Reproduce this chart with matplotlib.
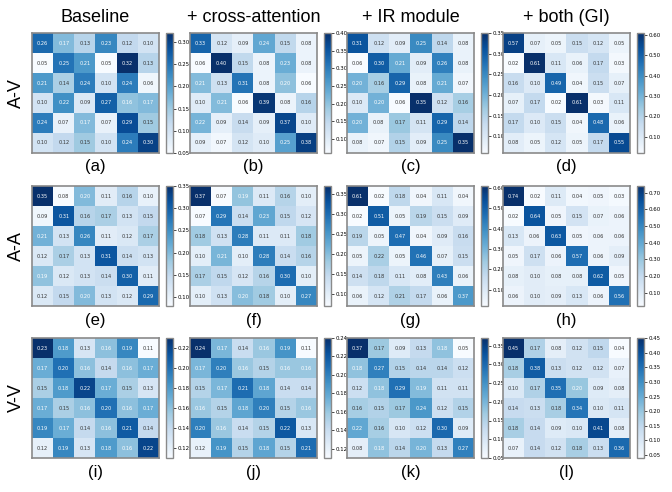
import matplotlib
matplotlib.use("Agg")
import matplotlib.pyplot as plt
import numpy as np
from matplotlib.ticker import FormatStrFormatter

# column / row names
col_titles = ["Baseline", "+ cross-attention", "+ IR module", "+ both (GI)"]
row_titles = ["A-V", "A-A", "V-V"]
panel_labels = ["(a)", "(b)", "(c)", "(d)", "(e)", "(f)", "(g)", "(h)",
                "(i)", "(j)", "(k)", "(l)"]

# A-V attention maps
av_baseline = [[0.26, 0.17, 0.13, 0.23, 0.12, 0.10],
               [0.05, 0.25, 0.21, 0.05, 0.32, 0.13],
               [0.21, 0.14, 0.24, 0.10, 0.24, 0.06],
               [0.10, 0.22, 0.09, 0.27, 0.16, 0.17],
               [0.24, 0.07, 0.17, 0.07, 0.29, 0.15],
               [0.10, 0.12, 0.15, 0.10, 0.24, 0.30]]
av_cross = [[0.33, 0.12, 0.09, 0.24, 0.15, 0.08],
            [0.06, 0.40, 0.15, 0.08, 0.23, 0.08],
            [0.21, 0.13, 0.31, 0.08, 0.20, 0.06],
            [0.10, 0.21, 0.06, 0.39, 0.08, 0.16],
            [0.22, 0.09, 0.14, 0.09, 0.37, 0.10],
            [0.09, 0.07, 0.12, 0.10, 0.25, 0.38]]
av_ir = [[0.31, 0.12, 0.09, 0.25, 0.14, 0.08],
         [0.06, 0.30, 0.21, 0.09, 0.26, 0.08],
         [0.20, 0.16, 0.29, 0.08, 0.21, 0.07],
         [0.10, 0.20, 0.06, 0.35, 0.12, 0.16],
         [0.20, 0.08, 0.17, 0.11, 0.29, 0.14],
         [0.08, 0.07, 0.15, 0.09, 0.25, 0.35]]
av_both = [[0.57, 0.07, 0.05, 0.15, 0.12, 0.05],
           [0.02, 0.61, 0.11, 0.06, 0.17, 0.03],
           [0.16, 0.10, 0.49, 0.04, 0.15, 0.07],
           [0.07, 0.17, 0.02, 0.61, 0.03, 0.11],
           [0.17, 0.10, 0.15, 0.04, 0.48, 0.06],
           [0.08, 0.05, 0.12, 0.05, 0.17, 0.55]]

# A-A attention maps
aa_baseline = [[0.35, 0.08, 0.20, 0.11, 0.16, 0.10],
               [0.09, 0.31, 0.16, 0.17, 0.13, 0.15],
               [0.21, 0.13, 0.26, 0.11, 0.12, 0.17],
               [0.12, 0.17, 0.13, 0.31, 0.14, 0.13],
               [0.19, 0.12, 0.13, 0.14, 0.30, 0.11],
               [0.12, 0.15, 0.20, 0.13, 0.12, 0.29]]
aa_cross = [[0.37, 0.07, 0.19, 0.11, 0.16, 0.10],
            [0.07, 0.29, 0.14, 0.23, 0.15, 0.12],
            [0.18, 0.13, 0.28, 0.11, 0.11, 0.18],
            [0.10, 0.21, 0.10, 0.28, 0.14, 0.16],
            [0.17, 0.15, 0.12, 0.16, 0.30, 0.10],
            [0.10, 0.13, 0.20, 0.18, 0.10, 0.27]]
aa_ir = [[0.61, 0.02, 0.18, 0.04, 0.11, 0.04],
         [0.02, 0.51, 0.05, 0.19, 0.15, 0.09],
         [0.19, 0.05, 0.47, 0.04, 0.09, 0.16],
         [0.05, 0.22, 0.05, 0.46, 0.07, 0.15],
         [0.14, 0.18, 0.11, 0.08, 0.43, 0.06],
         [0.06, 0.12, 0.21, 0.17, 0.06, 0.37]]
aa_both = [[0.74, 0.02, 0.11, 0.04, 0.05, 0.03],
           [0.02, 0.64, 0.05, 0.15, 0.07, 0.06],
           [0.13, 0.06, 0.63, 0.05, 0.06, 0.06],
           [0.05, 0.17, 0.06, 0.57, 0.06, 0.09],
           [0.08, 0.10, 0.08, 0.08, 0.62, 0.05],
           [0.06, 0.10, 0.09, 0.13, 0.06, 0.56]]

# V-V attention maps
vv_baseline = [[0.23, 0.18, 0.13, 0.16, 0.19, 0.11],
               [0.17, 0.20, 0.16, 0.14, 0.16, 0.17],
               [0.15, 0.18, 0.22, 0.17, 0.15, 0.13],
               [0.17, 0.15, 0.16, 0.20, 0.16, 0.17],
               [0.19, 0.17, 0.14, 0.16, 0.21, 0.14],
               [0.12, 0.19, 0.13, 0.18, 0.16, 0.22]]
vv_cross = [[0.24, 0.17, 0.14, 0.16, 0.19, 0.11],
            [0.17, 0.20, 0.16, 0.15, 0.16, 0.16],
            [0.15, 0.17, 0.21, 0.18, 0.14, 0.14],
            [0.16, 0.15, 0.18, 0.20, 0.15, 0.16],
            [0.20, 0.16, 0.14, 0.15, 0.22, 0.13],
            [0.12, 0.19, 0.15, 0.18, 0.15, 0.21]]
vv_ir = [[0.37, 0.17, 0.09, 0.13, 0.18, 0.05],
         [0.18, 0.27, 0.15, 0.14, 0.14, 0.12],
         [0.12, 0.18, 0.29, 0.19, 0.11, 0.11],
         [0.16, 0.15, 0.17, 0.24, 0.12, 0.15],
         [0.22, 0.16, 0.10, 0.12, 0.30, 0.09],
         [0.08, 0.18, 0.14, 0.20, 0.13, 0.27]]
vv_both = [[0.45, 0.17, 0.08, 0.12, 0.15, 0.04],
           [0.18, 0.38, 0.13, 0.12, 0.12, 0.07],
           [0.10, 0.17, 0.35, 0.20, 0.09, 0.08],
           [0.14, 0.13, 0.18, 0.34, 0.10, 0.11],
           [0.18, 0.14, 0.09, 0.10, 0.41, 0.08],
           [0.07, 0.14, 0.12, 0.18, 0.13, 0.36]]

maps = [[av_baseline, av_cross, av_ir, av_both],
        [aa_baseline, aa_cross, aa_ir, aa_both],
        [vv_baseline, vv_cross, vv_ir, vv_both]]

W, H = 672, 492
fig = plt.figure(figsize=(W / 100, H / 100), dpi=100)

lefts = [32, 190, 347, 503]   # pixel positions of heatmaps
tops = [33, 186, 338]
hm_w, hm_h = 127, 120

def px_box(x, y, w, h):
    return [x / W, 1 - (y + h) / H, w / W, h / H]

big_font = ["Liberation Sans", "DejaVu Sans"]

for r in range(3):
    for c in range(4):
        data = np.array(maps[r][c])
        ax = fig.add_axes(px_box(lefts[c], tops[r], hm_w, hm_h))
        im = ax.imshow(data, cmap="Blues", aspect="auto")
        vmin, vmax = data.min(), data.max()
        for i in range(6):
            for j in range(6):
                v = data[i, j]
                col = "white" if (v - vmin) / (vmax - vmin) > 0.38 else "#333333"
                ax.text(j, i, f"{v:.2f}", ha="center", va="center",
                        fontsize=3.6, color=col)
        ax.set_xticks([])
        ax.set_yticks([])
        for s in ax.spines.values():
            s.set_color("#8a8a8a")
            s.set_linewidth(1.2)

        cax = fig.add_axes(px_box(lefts[c] + 134, tops[r], 7, hm_h))
        cb = fig.colorbar(im, cax=cax)
        cb.outline.set_edgecolor("#8a8a8a")
        cb.outline.set_linewidth(1.0)
        cb.ax.yaxis.set_major_formatter(FormatStrFormatter("%.2f"))
        cb.ax.tick_params(labelsize=3.9, length=2, width=0.5, pad=1)

        # panel label below heatmap
        fig.text((lefts[c] + hm_w / 2) / W, 1 - (tops[r] + hm_h + 14) / H,
                 panel_labels[r * 4 + c], ha="center", va="center",
                 fontsize=12, family=big_font)

for c in range(4):
    fig.text((lefts[c] + hm_w / 2) / W, 1 - 17 / H, col_titles[c],
             ha="center", va="center", fontsize=13, family=big_font)

for r in range(3):
    fig.text(16 / W, 1 - (tops[r] + hm_h / 2) / H, row_titles[r],
             ha="center", va="center", rotation=90, fontsize=13,
             family=big_font)

fig.savefig("out.png", dpi=100)
